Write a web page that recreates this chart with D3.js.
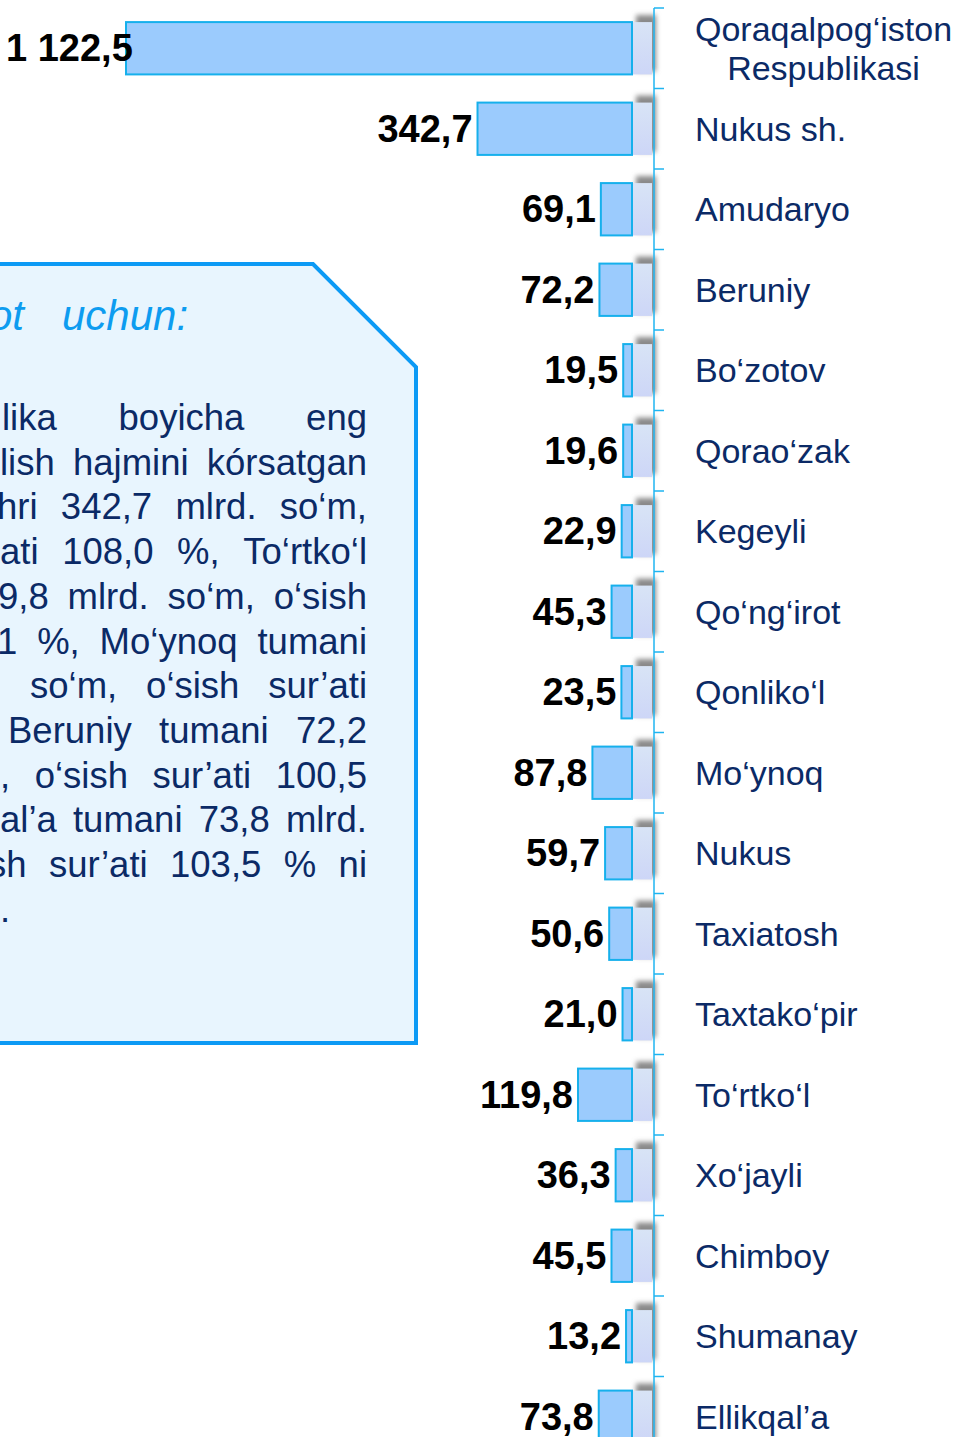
<!DOCTYPE html>
<html>
<head>
<meta charset="utf-8">
<script src="https://cdn.jsdelivr.net/npm/d3@7"></script>
<style>
  body { margin: 0; background: #fff; }
  svg { display: block; }
</style>
</head>
<body>
<div id="chart"></div>
<script>
// districts, top to bottom
const districts = ["Qoraqalpog‘iston\nRespublikasi", "Nukus sh.", "Amudaryo", "Beruniy", "Bo‘zotov",
  "Qorao‘zak", "Kegeyli", "Qo‘ng‘irot", "Qonliko‘l", "Mo‘ynoq", "Nukus", "Taxiatosh",
  "Taxtako‘pir", "To‘rtko‘l", "Xo‘jayli", "Chimboy", "Shumanay", "Ellikqal’a"];
// volume, mlrd. so'm
const volumes = [1122.5, 342.7, 69.1, 72.2, 19.5, 19.6, 22.9, 45.3, 23.5, 87.8, 59.7, 50.6,
  21.0, 119.8, 36.3, 45.5, 13.2, 73.8];

// note box text (only the part that is in the frame)
const noteTitle = ["Ma’lumot", "uchun:"];
const noteLines = [
  ["lika", "boyicha", "eng"],
  ["lish", "hajmini", "kórsatgan"],
  ["hri", "342,7", "mlrd.", "so‘m,"],
  ["ati", "108,0", "%,", "To‘rtko‘l"],
  ["9,8", "mlrd.", "so‘m,", "o‘sish"],
  ["1", "%,", "Mo‘ynoq", "tumani"],
  ["so‘m,", "o‘sish", "sur’ati"],
  ["Beruniy", "tumani", "72,2"],
  [",", "o‘sish", "sur’ati", "100,5"],
  ["al’a", "tumani", "73,8", "mlrd."],
  ["sh", "sur’ati", "103,5", "%", "ni"],
  ["."]
];
// where each note line starts (the paragraph is cut by the page edge)
const noteLineStart = [2, 0, -3, 0, -2, -3, 30, 8, 0, 0, -12, 0];

const width = 960, height = 1437;
const fmt = d3.formatLocale({decimal: ",", thousands: " ", grouping: [3]}).format(",.1f");

const svg = d3.select("#chart").append("svg")
  .attr("width", width)
  .attr("height", height)
  .style("font-family", "'Liberation Sans', Arial, sans-serif");

const defs = svg.append("defs");
defs.append("filter").attr("id", "blur")
  .attr("x", "-50%").attr("y", "-50%").attr("width", "200%").attr("height", "200%")
  .append("feGaussianBlur").attr("stdDeviation", 2.5);
const grad = defs.append("linearGradient").attr("id", "side")
  .attr("x1", 0).attr("y1", 0).attr("x2", 0).attr("y2", 1);
grad.append("stop").attr("offset", "0%").attr("stop-color", "#d8e4f6");
grad.append("stop").attr("offset", "100%").attr("stop-color", "#cdd6f7");

// ---- note box ----
const box = svg.append("g");
box.append("polygon")
  .attr("points", [[-20, 264], [313, 264], [416, 367], [416, 1043], [-20, 1043]].join(" "))
  .attr("fill", "#e8f5fe")
  .attr("stroke", "#0c9af5")
  .attr("stroke-width", 4);

box.append("text")
  .attr("x", 24).attr("y", 330)
  .attr("text-anchor", "end")
  .attr("font-size", 42).attr("font-style", "italic")
  .attr("fill", "#0d9cf0")
  .text(noteTitle[0]);
box.append("text")
  .attr("x", 62).attr("y", 330)
  .attr("font-size", 42).attr("font-style", "italic")
  .attr("fill", "#0d9cf0")
  .text(noteTitle[1]);

// justified lines, right edge at 367
const noteRight = 367;
noteLines.forEach((words, i) => {
  const yy = 430 + 44.7 * i;
  const g = box.append("g");
  const texts = words.map(w => g.append("text")
    .attr("y", yy)
    .attr("font-size", 36.5)
    .attr("fill", "#0b2a66")
    .text(w));
  const widths = texts.map(t => t.node().getComputedTextLength());
  const total = d3.sum(widths);
  const x0 = noteLineStart[i];
  const gap = words.length > 1 ? (noteRight - x0 - total) / (words.length - 1) : 0;
  let cx = x0;
  texts.forEach((t, j) => { t.attr("x", cx); cx += widths[j] + gap; });
});

// ---- bars ----
const y = d3.scaleBand()
  .domain(districts)
  .range([8, 8 + 80.5 * districts.length])
  .paddingInner(0.35)
  .paddingOuter(0.175);

const x = d3.scaleLinear()
  .domain([0, 1122.5])
  .range([632, 126]);

const rows = districts.map((d, i) => ({name: d, value: volumes[i]}));
const wall = 654;

const bar = svg.append("g").selectAll("g")
  .data(rows)
  .join("g");

// depth side of each bar with a soft shadow
bar.append("rect")
  .attr("x", x(0) + 4)
  .attr("y", d => y(d.name) - 7)
  .attr("width", wall - x(0) - 2)
  .attr("height", y.bandwidth() + 4)
  .attr("fill", "#8a8a8a")
  .attr("filter", "url(#blur)");
bar.append("rect")
  .attr("x", x(0))
  .attr("y", d => y(d.name))
  .attr("width", wall - x(0) - 2)
  .attr("height", y.bandwidth())
  .attr("fill", "url(#side)");

bar.append("rect")
  .attr("x", d => x(d.value))
  .attr("y", d => y(d.name))
  .attr("width", d => x(0) - x(d.value))
  .attr("height", y.bandwidth())
  .attr("fill", "#9bcbfd")
  .attr("stroke", "#16b0ec")
  .attr("stroke-width", 2);

// value labels, kept inside the page on the left
bar.append("text")
  .attr("y", d => y(d.name) + y.bandwidth() / 2 + 13)
  .attr("text-anchor", "end")
  .attr("font-size", 38)
  .attr("font-weight", "bold")
  .attr("fill", "#000")
  .text(d => fmt(d.value))
  .attr("x", function(d) {
    const w = this.getComputedTextLength();
    return Math.max(x(d.value) - 5, w + 6);
  });

// ---- axis ----
const axis = svg.append("g");
axis.append("line")
  .attr("x1", wall).attr("x2", wall)
  .attr("y1", y.range()[0]).attr("y2", y.range()[1])
  .attr("stroke", "#1fb4f0").attr("stroke-width", 1.5);
axis.selectAll(".tick")
  .data(districts)
  .join("line")
  .attr("class", "tick")
  .attr("x1", wall).attr("x2", wall + 10)
  .attr("y1", d => y(d) - y.step() * y.paddingInner() / 2)
  .attr("y2", d => y(d) - y.step() * y.paddingInner() / 2)
  .attr("stroke", "#1fb4f0").attr("stroke-width", 1.5);

// category labels
const labelX = 695;
rows.forEach(d => {
  const lines = d.name.split("\n");
  const cy = y(d.name) + y.bandwidth() / 2;
  const t = svg.append("text")
    .attr("font-size", 34)
    .attr("fill", "#0b2a66");
  if (lines.length === 1) {
    t.attr("x", labelX).attr("y", cy + 12).text(lines[0]);
  } else {
    // multi-line label is centred on its first line
    const first = t.append("tspan").text(lines[0]);
    const w = first.node().getComputedTextLength();
    t.attr("text-anchor", "middle");
    lines.forEach((ln, k) => {
      const sp = k === 0 ? first : t.append("tspan").text(ln);
      sp.attr("x", labelX + w / 2)
        .attr("y", cy + 12 + (k - (lines.length - 1) / 2) * 39);
    });
  }
});
</script>
</body>
</html>
